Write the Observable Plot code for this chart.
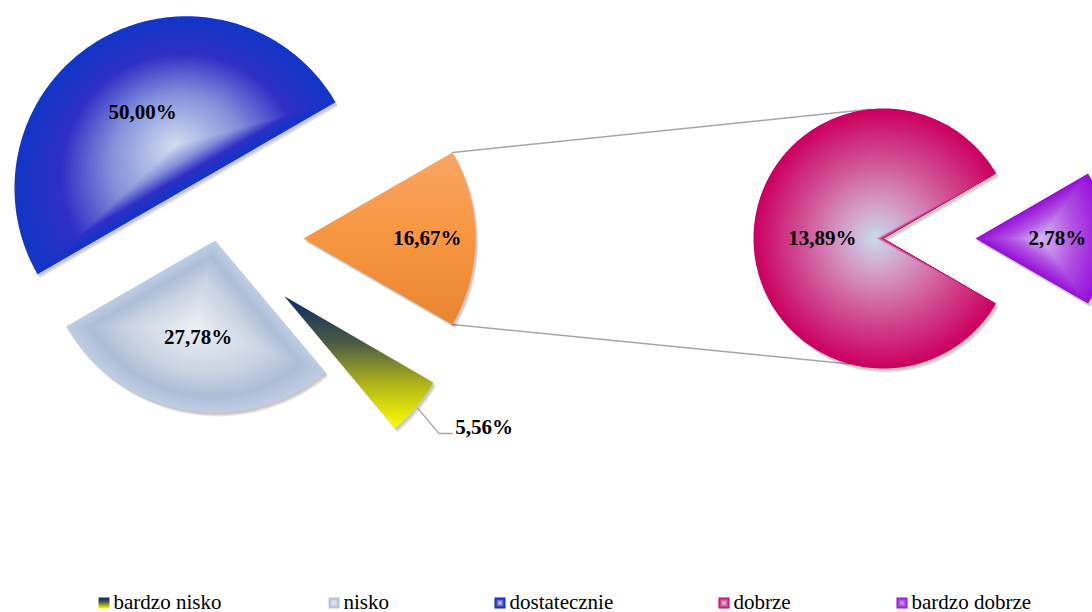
<!DOCTYPE html>
<html><head><meta charset="utf-8">
<script src="https://cdn.jsdelivr.net/npm/d3@7"></script>
<script src="https://cdn.jsdelivr.net/npm/@observablehq/plot@0.6"></script>
<style>html,body{margin:0;padding:0;background:#fff}</style>
</head><body><div id="chart"></div>
<script>
// ---- data ----
const mainCategories = ["dostatecznie", "nisko", "bardzo nisko", "inne"];
const mainValues = [50.00, 27.78, 5.56, 16.67];
const mainLabels = ["50,00%", "27,78%", "5,56%", "16,67%"];
const secondCategories = ["dobrze", "bardzo dobrze"];
const secondValues = [13.89, 2.78];
const secondLabels = ["13,89%", "2,78%"];
const legendItems = ["bardzo nisko", "nisko", "dostatecznie", "dobrze", "bardzo dobrze"];

// ---- layout & style ----
const W = 1092, H = 612;
const FONT = "'Times New Roman', 'Liberation Serif', serif";
const mainCfg = {cx: 215, cy: 238, r: 172, start: 30, explode: [58, 2, 90, 88], labelFrac: [0.51, 0.57, null, 0.72]};
const secCfg = {cx: 883, cy: 238, r: 130, start: 30, explode: [0, 92], labelFrac: [0.47, 0.63]};
const legendX = [98, 328, 494, 718, 896];
const legendY = 597, legendBox = 11, legendBaseline = 608;

// path-gradient stops (edge -> center)
const shades = {
  "dostatecznie": [[0, "#1236c8"], [0.28, "#2f2fc6"], [0.6, "#8592da"], [1, "#d4def2"]],
  "nisko": [[0, "#bfcde4"], [0.18, "#adbdd6"], [0.45, "#c9d3e3"], [1, "#eef0f4"]],
  "dobrze": [[0, "#cc0060"], [0.35, "#d04890"], [0.7, "#d498c6"], [1, "#c8ddee"]],
  "bardzo dobrze": [[0, "#9610d8"], [0.5, "#b256e4"], [1, "#d4b8f4"]]
};

function buildSlices(values, cfg) {
  const total = d3.sum(values);
  let a = cfg.start;
  return values.map((v, i) => {
    const a0 = a, a1 = a + v / total * 360; a = a1;
    const mid = (a0 + a1) / 2 * Math.PI / 180;
    const ox = cfg.cx + cfg.explode[i] * Math.cos(mid);
    const oy = cfg.cy - cfg.explode[i] * Math.sin(mid);
    const pts = [[ox, oy]];
    const n = Math.max(4, Math.ceil((a1 - a0) * 2));
    for (let k = 0; k <= n; k++) {
      const t = (a0 + (a1 - a0) * k / n) * Math.PI / 180;
      pts.push([ox + cfg.r * Math.cos(t), oy - cfg.r * Math.sin(t)]);
    }
    pts.push([ox, oy]);
    const arcPt = f => [ox + cfg.r * f * Math.cos(mid), oy - cfg.r * f * Math.sin(mid)];
    const at = (deg, f = 1) => [ox + cfg.r * f * Math.cos(deg * Math.PI / 180), oy - cfg.r * f * Math.sin(deg * Math.PI / 180)];
    return {i, a0, a1, mid, ox, oy, pts, arcPt, at, r: cfg.r};
  });
}

function layered(pts, stops, n = 60) {
  const xs = pts.map(p => p[0]), ys = pts.map(p => p[1]);
  const bx = (d3.min(xs) + d3.max(xs)) / 2, by = (d3.min(ys) + d3.max(ys)) / 2;
  const col = d3.scaleLinear().domain(stops.map(s => s[0])).range(stops.map(s => s[1])).interpolate(d3.interpolateRgb);
  const rows = [];
  for (let L = 0; L < n; L++) {
    const s = 1 - L / n, c = col(L / n);
    for (const [x, y] of pts) rows.push({x: bx + (x - bx) * s, y: by + (y - by) * s, layer: L, c});
  }
  return rows;
}

const mainSlices = buildSlices(mainValues, mainCfg);
const secSlices = buildSlices(secondValues, secCfg);
const [sBlue, sLight, sYellow, sOrange] = mainSlices;
const [sPink, sPurple] = secSlices;

const yBox = {y0: d3.min(sYellow.pts, p => p[1]), y1: d3.max(sYellow.pts, p => p[1])};
const oBox = {y0: d3.min(sOrange.pts, p => p[1]), y1: d3.max(sOrange.pts, p => p[1])};

function defs() {
  const d = d3.create("svg:defs");
  const gy = d.append("linearGradient").attr("id", "gYellow").attr("gradientUnits", "userSpaceOnUse")
    .attr("x1", 0).attr("x2", 0).attr("y1", yBox.y0).attr("y2", yBox.y1);
  [[0, "#0a2868"], [0.35, "#4a5a44"], [0.68, "#b4b816"], [1, "#ffff00"]].forEach(([o, c]) => gy.append("stop").attr("offset", o).attr("stop-color", c));
  const gyl = d.append("linearGradient").attr("id", "gYellowL").attr("x1", 0).attr("x2", 0).attr("y1", 0).attr("y2", 1);
  [[0, "#0a2868"], [0.4, "#4a5a44"], [1, "#ffff00"]].forEach(([o, c]) => gyl.append("stop").attr("offset", o).attr("stop-color", c));
  const go = d.append("linearGradient").attr("id", "gOrange").attr("gradientUnits", "userSpaceOnUse")
    .attr("x1", 0).attr("x2", 0).attr("y1", oBox.y0).attr("y2", oBox.y1);
  [[0, "#f9a563"], [0.5, "#f79640"], [1, "#ea8530"]].forEach(([o, c]) => go.append("stop").attr("offset", o).attr("stop-color", c));
  return d.node();
}

const line = (data, opts) => Plot.line(data, {x: "x", y: "y", z: "layer", stroke: "none", ...opts});

// soft shadow: a few offset translucent copies
function shadow(pts) {
  const rows = [];
  [4, 3, 2].forEach((d, L) => {
    for (const [x, y] of pts) rows.push({x: x + d * 0.7, y: y + d, layer: L});
  });
  return Plot.line(rows, {x: "x", y: "y", z: "layer", stroke: "none", fill: "#000", fillOpacity: 0.08});
}

const marks = [defs];

// connector lines (behind)
const tl = sOrange.at(sOrange.a1), bl = sOrange.at(sOrange.a0);
const pinkTop = [secCfg.cx + secCfg.r * Math.cos(96 * Math.PI / 180), secCfg.cy - secCfg.r * Math.sin(96 * Math.PI / 180)];
const pinkBot = [secCfg.cx + secCfg.r * Math.cos(255 * Math.PI / 180), secCfg.cy - secCfg.r * Math.sin(255 * Math.PI / 180)];
marks.push(Plot.line([{x: tl[0], y: tl[1], k: "a"}, {x: pinkTop[0], y: pinkTop[1], k: "a"}, {x: bl[0], y: bl[1], k: "b"}, {x: pinkBot[0], y: pinkBot[1], k: "b"}],
  {x: "x", y: "y", z: "k", stroke: "#a6a6a6", strokeWidth: 1.5}));

// shadows
[...mainSlices, ...secSlices].forEach(s => marks.push(shadow(s.pts)));

// slices
marks.push(line(layered(sBlue.pts, shades["dostatecznie"]), {fill: "c"}));
marks.push(line(layered(sLight.pts, shades["nisko"]), {fill: "c"}));
marks.push(line(sYellow.pts.map(([x, y]) => ({x, y, layer: 0})), {fill: "url(#gYellow)"}));
marks.push(line(sOrange.pts.map(([x, y]) => ({x, y, layer: 0})), {fill: "url(#gOrange)"}));
marks.push(line(layered(sPink.pts, shades["dobrze"]), {fill: "c"}));
marks.push(line(layered(sPurple.pts, shades["bardzo dobrze"]), {fill: "c"}));

// leader for small slice
const lp0 = sYellow.arcPt(1.015);
const lp1 = [lp0[0] + 21, lp0[1] + 25];
const lp2 = [lp1[0] + 13, lp1[1]];
marks.push(Plot.line([lp0, lp1, lp2].map(([x, y]) => ({x, y})), {x: "x", y: "y", stroke: "#a6a6a6", strokeWidth: 1.5}));

// labels
const labelRows = [];
mainSlices.forEach((s, i) => {
  if (mainCfg.labelFrac[i] != null) { const [x, y] = s.arcPt(mainCfg.labelFrac[i]); labelRows.push({x, y, t: mainLabels[i], a: "middle"}); }
});
labelRows.push({x: lp2[0] + 3, y: lp2[1] - 6, t: mainLabels[2], a: "start"});
secSlices.forEach((s, i) => { const [x, y] = s.arcPt(secCfg.labelFrac[i]); labelRows.push({x, y, t: secondLabels[i], a: "middle"}); });
marks.push(Plot.text(labelRows.filter(d => d.a === "middle"), {x: "x", y: "y", text: "t", fontSize: 21, fontWeight: "bold", fontFamily: FONT, fill: "#000"}));
marks.push(Plot.text(labelRows.filter(d => d.a === "start"), {x: "x", y: "y", text: "t", textAnchor: "start", fontSize: 21, fontWeight: "bold", fontFamily: FONT, fill: "#000"}));

// legend
legendItems.forEach((name, i) => {
  const x0 = legendX[i], y0 = legendY, w = legendBox;
  const rect = [[x0, y0], [x0 + w, y0], [x0 + w, y0 + w], [x0, y0 + w], [x0, y0]];
  if (name === "bardzo nisko") {
    marks.push(line(rect.map(([x, y]) => ({x, y, layer: 0})), {fill: "url(#gYellowL)"}));
  } else {
    marks.push(line(layered(rect, shades[name], 12), {fill: "c"}));
  }
});
marks.push(Plot.text(legendItems.map((t, i) => ({t, x: legendX[i] + legendBox + 4, y: legendBaseline})),
  {x: "x", y: "y", text: "t", textAnchor: "start", lineAnchor: "bottom", fontSize: 21, fontFamily: FONT, fill: "#000"}));

const chart = Plot.plot({
  width: W, height: H,
  margin: 0, marginTop: 0, marginRight: 0, marginBottom: 0, marginLeft: 0,
  x: {domain: [0, W], range: [0, W], axis: null},
  y: {domain: [0, H], range: [0, H], axis: null},
  color: {type: "identity"},
  style: {background: "#fff", overflow: "hidden"},
  marks
});
document.getElementById("chart").appendChild(chart);
</script>
</body></html>
